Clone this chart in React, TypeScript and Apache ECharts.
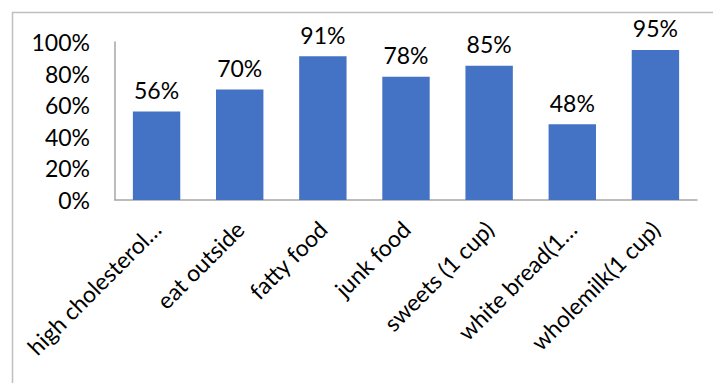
import React, { useEffect, useRef } from "react";
import * as echarts from "echarts";

const categories = [
  "high cholesterol…",
  "eat outside",
  "fatty food",
  "junk food",
  "sweets (1 cup)",
  "white bread(1…",
  "wholemilk(1 cup)",
];
const values = [0.56, 0.7, 0.91, 0.78, 0.85, 0.48, 0.95];
const yTicks = [0, 0.2, 0.4, 0.6, 0.8, 1.0];

const FONT = "Lato";
const FS = 23;

export default function App() {
  const ref = useRef<HTMLDivElement>(null);
  useEffect(() => {
    document.body.style.margin = "0";
    if (!ref.current) return;
    const chart = echarts.init(ref.current, null, { renderer: "svg" });
    chart.setOption({
      animation: false,
      backgroundColor: "#ffffff",
      graphic: [
        {
          type: "rect",
          shape: { x: 12.5, y: 12.5, width: 900, height: 600 },
          style: { fill: "none", stroke: "#bfbfbf", lineWidth: 1.5 },
          silent: true,
        },
      ],
      grid: { left: 115, top: 42, right: 16, bottom: 183, containLabel: false },
      xAxis: {
        type: "category",
        data: categories,
        axisLine: { show: true, lineStyle: { color: "#a6a6a6", width: 1.5 } },
        axisTick: { show: false },
        axisLabel: {
          rotate: 45,
          interval: 0,
          margin: 25,
          color: "#000000",
          fontFamily: FONT,
          fontSize: 23,
        },
      },
      yAxis: {
        type: "value",
        min: 0,
        max: 1,
        interval: 0.2,
        splitLine: { show: false },
        axisTick: { show: false },
        axisLine: { show: true, lineStyle: { color: "#a6a6a6", width: 1.5 } },
        axisLabel: {
          margin: 25,
          color: "#000000",
          fontFamily: FONT,
          fontSize: FS,
          formatter: (v: number) => {
            const hit = yTicks.find((t) => Math.abs(t - v) < 1e-9);
            return hit === undefined ? "" : Math.round(hit * 100) + "%";
          },
        },
      },
      series: [
        {
          type: "bar",
          data: values,
          barWidth: "57%",
          itemStyle: { color: "#4472C4" },
          label: {
            show: true,
            position: "top",
            distance: 10,
            color: "#000000",
            fontFamily: FONT,
            fontSize: FS,
            formatter: (p: any) => Math.round(p.value * 100) + "%",
          },
        },
      ],
    });
    return () => chart.dispose();
  }, []);
  return <div ref={ref} style={{ width: 713, height: 383 }} />;
}
